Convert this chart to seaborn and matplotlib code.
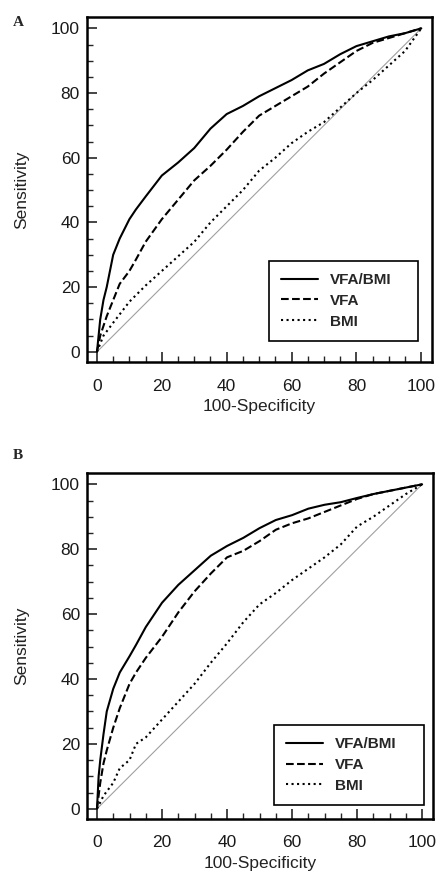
import numpy as np
import pandas as pd
import matplotlib
matplotlib.use("Agg")
import matplotlib.pyplot as plt
import seaborn as sns
from matplotlib.ticker import MultipleLocator

# panel A values
a_ratio_x = [0, 1, 2, 3, 5, 7, 10, 12, 15, 20, 25, 30, 35, 40, 45, 50, 55, 60, 65, 70, 75, 80, 85, 90, 95, 100]
a_ratio_y = [0, 10, 16, 20, 30, 35, 41, 44, 48, 54.5, 58.5, 63, 69, 73.5, 76, 79, 81.5, 84, 87, 89, 92, 94.5, 96, 97.5, 98.5, 100]
a_vfa_x = [0, 1, 2, 3, 5, 7, 10, 12, 15, 20, 25, 30, 35, 40, 45, 50, 55, 60, 65, 70, 75, 80, 85, 90, 95, 100]
a_vfa_y = [0, 5, 8, 11, 16, 21, 25, 28.5, 34, 41, 47, 53, 57.5, 62.5, 68, 73, 76, 79, 82, 86, 89.5, 93, 95.5, 97, 98.5, 100]
a_bmi_x = [0, 2, 5, 10, 15, 20, 25, 30, 35, 40, 45, 50, 55, 60, 65, 70, 75, 80, 85, 90, 95, 100]
a_bmi_y = [0, 5, 9, 15.5, 20.5, 25, 29.5, 34, 40, 45, 50, 56, 60, 64.5, 68, 71, 75.5, 80, 84, 88.5, 93, 100]

# panel B values
b_ratio_x = [0, 0.5, 1, 2, 3, 5, 7, 10, 12, 15, 20, 25, 30, 35, 40, 45, 50, 55, 60, 65, 70, 75, 80, 85, 90, 95, 100]
b_ratio_y = [0, 10, 15, 23, 30, 37, 42, 47, 50.5, 56, 63.5, 69, 73.5, 78, 81, 83.5, 86.5, 89, 90.5, 92.5, 93.7, 94.5, 95.8, 97, 98, 99, 100]
b_vfa_x = [0, 1, 2, 3, 5, 7, 10, 12, 15, 20, 25, 30, 35, 40, 45, 50, 55, 60, 65, 70, 75, 80, 85, 90, 95, 100]
b_vfa_y = [0, 8, 14, 18, 25, 31, 38.5, 42, 46.5, 53, 60.5, 67, 72.5, 77.5, 79.5, 82.5, 86, 88, 89.5, 91.5, 93.5, 95.5, 97, 98, 99, 100]
b_bmi_x = [0, 2, 5, 7, 10, 12, 15, 20, 25, 30, 35, 40, 45, 50, 55, 60, 65, 70, 75, 80, 85, 90, 95, 100]
b_bmi_y = [0, 4, 8, 12.5, 15, 20, 22, 27.5, 33, 38.5, 45, 51, 57.5, 63, 66.5, 70.5, 74, 77.5, 81.5, 87, 90, 93.5, 97, 100]

labels = ["VFA/BMI", "VFA", "BMI"]
styles = ["-", "--", ":"]

sns.set_style("ticks")
plt.rcParams["font.family"] = ["Liberation Sans", "DejaVu Sans"]

fig = plt.figure(figsize=(4.39, 8.72), dpi=100)
ax_a = fig.add_axes([0.198, 0.585, 0.786, 0.3955])
ax_b = fig.add_axes([0.198, 0.061, 0.788, 0.3966])

# (axes, curves, legend box in axes fraction)
panels = [
    (ax_a, [(a_ratio_x, a_ratio_y), (a_vfa_x, a_vfa_y), (a_bmi_x, a_bmi_y)], (0.528, 0.061, 0.431, 0.22)),
    (ax_b, [(b_ratio_x, b_ratio_y), (b_vfa_x, b_vfa_y), (b_bmi_x, b_bmi_y)], (0.54, 0.040, 0.434, 0.22)),
]

for ax, curves, box in panels:
    ax.plot([0, 100], [0, 100], color="#a0a0a0", lw=0.8)
    for (xs, ys), lab, ls in zip(curves, labels, styles):
        df = pd.DataFrame({"x": xs, "y": ys})
        sns.lineplot(data=df, x="x", y="y", ax=ax, color="black", linestyle=ls,
                     lw=1.5, label=lab, sort=False, estimator=None)
    ax.set_xlim(-3.1, 103.3)
    ax.set_ylim(-3.1, 103.5)
    ax.xaxis.set_major_locator(MultipleLocator(20))
    ax.yaxis.set_major_locator(MultipleLocator(20))
    ax.xaxis.set_minor_locator(MultipleLocator(5))
    ax.yaxis.set_minor_locator(MultipleLocator(5))
    ax.tick_params(which="major", direction="in", length=7, width=1.2, labelsize=12.5, pad=5,
                   labelcolor="#1a1a1a")
    ax.tick_params(axis="x", which="major", pad=12)
    ax.tick_params(which="minor", direction="in", length=4, width=1.0)
    for sp in ax.spines.values():
        sp.set_linewidth(1.8)
        sp.set_color("black")
    ax.set_xlabel("100-Specificity", fontsize=12.5, color="#222222", labelpad=4)
    ax.set_ylabel("Sensitivity", fontsize=12.5, color="#222222", labelpad=16)
    leg = ax.legend(loc="lower left", bbox_to_anchor=box, mode="expand", fancybox=False,
                    framealpha=1, edgecolor="black", prop={"weight": "bold", "size": 11},
                    handlelength=2.4, borderpad=0.8, labelspacing=0.45, handletextpad=0.8,
                    borderaxespad=0)
    leg.get_frame().set_linewidth(1.2)

fig.text(0.03, 0.974, "A", fontsize=11, fontweight="bold", family="Liberation Serif", va="center")
fig.text(0.03, 0.478, "B", fontsize=11, fontweight="bold", family="Liberation Serif", va="center")

fig.savefig("out.png", dpi=100)
